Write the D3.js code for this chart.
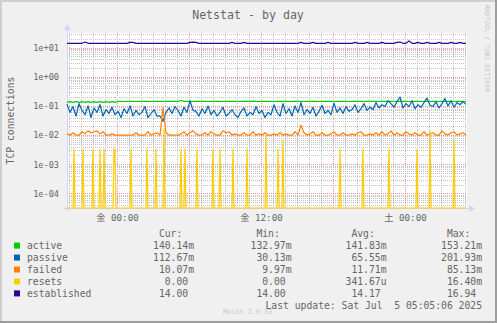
<!DOCTYPE html>
<html>
<head>
<meta charset="utf-8">
<script src="https://cdn.jsdelivr.net/npm/d3@7"></script>
<style>
  body { margin: 0; background: #f0f0f0; }
  text { font-family: "DejaVu Sans Mono", "Noto Sans CJK JP", monospace; fill: #666; }
</style>
</head>
<body>
<svg id="chart" width="497" height="323"></svg>
<script>
// time axis: one sample every 15 minutes (resets: every 5 minutes)
const startTime = new Date(Date.UTC(2025, 6, 3, 19, 50));
const endTime = new Date(Date.UTC(2025, 6, 5, 5, 10));
const stepMin = 15;
const resetStepMin = 5;

const seriesNames = ["active", "passive", "failed", "resets", "established"];
const colors = ["#00cc00", "#0066b3", "#ff8000", "#ffcc00", "#330099"];

// values in milli-connections (m), as in the legend
const activeM = [
  133, 140, 133, 140, 133, 140, 133, 140, 133, 140, 133, 140, 133, 140, 133, 140, 133,
  143, 143, 142, 143, 143, 143, 142, 143, 143, 143, 143, 142, 143,
  143, 143, 142, 143, 143, 143, 143, 143, 153.21, 143, 143, 143, 142,
  143, 143, 143, 143, 142, 143, 143, 143, 143, 142, 143, 143, 143,
  143, 142, 143, 143, 143, 143, 147, 143, 142, 143, 143, 143, 143,
  142, 143, 143, 143, 143, 142, 143, 143, 143, 143, 142, 143, 143,
  143, 143, 142, 143, 143, 143, 143, 142, 143, 143, 143, 143, 142,
  143, 143, 143, 143, 142, 143, 143, 143, 143, 142, 143, 143, 143,
  143, 142, 143, 143, 143, 143, 142, 143, 143, 143, 143, 142, 143,
  143, 143, 143, 142, 143, 143, 143, 143, 142, 143, 143, 143, 140.14
];
const passiveM = [
  115, 60, 95, 45, 120, 70, 50, 100, 40, 85, 60, 110, 45, 75, 55, 90, 50,
  65, 40, 80, 55, 100, 45, 70, 50, 60, 95, 40, 55, 75, 45, 45, 30.13, 60,
  85, 55, 95, 70, 45, 90, 60, 150, 70, 65, 45, 80, 55, 100, 50, 70, 45,
  60, 90, 45, 55, 75, 50, 40, 65, 85, 45, 60, 50, 95, 55, 70, 40, 60,
  50, 110, 60, 45, 120, 55, 80, 45, 100, 60, 130, 50, 75, 55, 90, 45, 65,
  105, 55, 70, 50, 125, 60, 85, 55, 95, 65, 75, 110, 60, 80, 120, 70, 90,
  75, 130, 85, 110, 95, 150, 120, 90, 140, 201.93, 85, 120, 95, 150, 80, 110, 90,
  130, 185, 105, 95, 140, 85, 120, 180, 100, 150, 90, 130, 110, 140, 112.67
];
const failedM = [
  11, 10, 12, 10, 9.97, 13, 11, 14, 12, 13, 14, 11, 13, 10, 10, 11, 10,
  10, 10, 10, 10, 10, 10, 12, 10, 10, 10, 13, 10, 11, 12, 10, 85.13, 12,
  10, 10, 9.97, 10, 11, 13, 10, 12, 14, 11, 10, 10, 12, 10, 13, 11, 10,
  10, 14, 12, 13, 10, 11, 10, 10, 12, 10, 10, 13, 10, 11, 10, 12, 10,
  10, 11, 10, 12, 10, 11, 10, 10, 13, 10, 22, 12, 10, 11, 13, 10, 10,
  12, 10, 10, 11, 13, 10, 10, 12, 10, 10, 11, 10, 12, 13, 10, 10, 11,
  10, 12, 10, 13, 10, 11, 14, 10, 12, 10, 10, 13, 11, 10, 12, 10, 10,
  13, 10, 11, 12, 10, 10, 14, 11, 10, 12, 13, 10, 11, 12, 10.07
];
const established = [
  14, 14, 14, 14, 14, 14, 15.5, 14, 14, 14, 14, 14, 14, 14, 14, 14, 14,
  14, 14, 14, 14, 15, 15, 14, 14, 14, 14, 14, 14, 14, 14, 14, 14, 14,
  14, 14, 14, 14, 14, 14, 14, 15, 15.3, 15, 14, 14, 14, 14, 14, 14, 14,
  14, 14, 14, 14, 15, 14, 14, 14, 15, 14, 14, 14, 14, 14, 14, 14, 14,
  14, 14, 14, 14, 14, 14, 14, 14, 14, 14, 15, 14, 14, 14, 15, 14, 14,
  14, 14, 15, 14, 14, 14, 14, 14, 14, 14, 14, 15, 14, 14, 14, 15, 14,
  14, 14, 14, 15, 14, 14, 14, 14, 15, 15.5, 14, 14, 16.94, 14, 14, 15, 14,
  14, 15, 14, 14, 14, 15, 14, 14, 14, 15, 14, 14, 15, 14, 14
];
// resets are zero except at these 5-minute samples
const resetSpikeIdx = [7, 16, 26, 33, 37, 47, 48, 64, 80, 89, 97, 114, 118, 130, 146, 153, 166, 180, 199, 211, 216, 273, 296, 322, 350, 363, 387];
const resetSpikeM = [3.33, 3.33, 3.33, 3.33, 3.33, 3.33, 3.33, 3.33, 3.33, 3.33, 16.4, 3.33, 3.33, 3.33, 3.33, 3.33, 3.33, 3.33, 10, 3.33, 6.67, 3.33, 3.33, 3.33, 3.33, 13.33, 6.67];
const resetSamples = 400;

// legend statistics
const curValues = [0.14014, 0.11267, 0.01007, 0, 14.00];
const minValues = [0.13297, 0.03013, 0.00997, 0, 14.00];
const avgValues = [0.14183, 0.06555, 0.01171, 0.00034167, 14.17];
const maxValues = [0.15321, 0.20193, 0.08513, 0.0164, 16.94];

const yTickValues = [1e-4, 1e-3, 1e-2, 1e-1, 1, 10];
const yTickLabels = ["1e-04", "1e-03", "1e-02", "1e-01", "1e+00", "1e+01"];
const xTickTimes = [new Date(Date.UTC(2025, 6, 4, 0)), new Date(Date.UTC(2025, 6, 4, 12)), new Date(Date.UTC(2025, 6, 5, 0))];
const xTickLabels = ["金 00:00", "金 12:00", "土 00:00"];

const W = 497, H = 323;
const plotL = 67, plotR = 467, plotT = 33, plotB = 208;

const svg = d3.select("#chart");

const x = d3.scaleUtc().domain([startTime, endTime]).range([plotL, plotR]);
const y = d3.scaleLog().domain([Math.pow(10, -4.5), Math.pow(10, 1.5)]).range([plotB, plotT]).clamp(true);

// background and 3d frame
svg.append("rect").attr("width", W).attr("height", H).attr("fill", "#f0f0f0");
svg.append("path").attr("d", `M0,0H${W}V2H2V${H}H0Z`).attr("fill", "#cfcfcf");
svg.append("path").attr("d", `M${W},0V${H}H0V${H - 2}H${W - 2}V0Z`).attr("fill", "#9e9e9e");
svg.append("rect").attr("x", plotL).attr("y", plotT).attr("width", plotR - plotL).attr("height", plotB - plotT).attr("fill", "#fff");

// grid
const grid = svg.append("g").attr("stroke-width", 1).attr("stroke-dasharray", "1,1").attr("shape-rendering", "crispEdges");
const hours = d3.utcHour.every(1).range(startTime, endTime);
grid.selectAll("line.vx")
  .data(hours)
  .enter().append("line")
  .attr("x1", d => Math.round(x(d)) + 0.5).attr("x2", d => Math.round(x(d)) + 0.5)
  .attr("y1", plotT).attr("y2", plotB)
  .attr("stroke", d => d.getUTCHours() % 6 === 0 ? "rgba(255,0,0,0.4)" : "#c4c4c4");

const minorY = [];
for (let k = -5; k <= 1; k++) {
  for (let m = 2; m <= 9; m++) {
    const v = m * Math.pow(10, k);
    if (v > y.domain()[0] && v < y.domain()[1]) minorY.push(v);
  }
}
grid.selectAll("line.hy")
  .data(minorY)
  .enter().append("line")
  .attr("x1", plotL).attr("x2", plotR)
  .attr("y1", d => Math.round(y(d)) + 0.5).attr("y2", d => Math.round(y(d)) + 0.5)
  .attr("stroke", "#c4c4c4");
grid.selectAll("line.my")
  .data(yTickValues)
  .enter().append("line")
  .attr("x1", plotL).attr("x2", plotR)
  .attr("y1", d => Math.round(y(d)) + 0.5).attr("y2", d => Math.round(y(d)) + 0.5)
  .attr("stroke", "rgba(255,0,0,0.4)");

// axes lines with arrows
svg.append("line").attr("x1", plotL + 0.5).attr("x2", plotL + 0.5).attr("y1", plotB + 3).attr("y2", 28)
  .attr("stroke", "#cfd6f8");
svg.append("path").attr("d", `M${plotL - 3},30L${plotL + 4},30L${plotL + 0.5},24Z`).attr("fill", "#cfd6f8");
svg.append("line").attr("x1", plotL - 3).attr("x2", 471).attr("y1", plotB + 0.5).attr("y2", plotB + 0.5)
  .attr("stroke", "#cfd6f8");
svg.append("path").attr("d", `M469,${plotB - 3}L469,${plotB + 4}L475,${plotB + 0.5}Z`).attr("fill", "#cfd6f8");

// y labels
const yAxis = svg.append("g")
  .attr("transform", `translate(${plotL},0)`)
  .call(d3.axisLeft(y).tickValues(yTickValues).tickFormat((d, i) => yTickLabels[i]).tickSize(0).tickPadding(8));
yAxis.select(".domain").remove();
yAxis.attr("font-family", null).attr("font-size", null);
yAxis.selectAll("text").style("font-size", "8.6px");

// x labels
const xAxis = svg.append("g")
  .attr("transform", `translate(0,${plotB})`)
  .call(d3.axisBottom(x).tickValues(xTickTimes).tickFormat((d, i) => xTickLabels[i]).tickSize(0).tickPadding(6.5));
xAxis.select(".domain").remove();
xAxis.attr("font-family", null).attr("font-size", null);
xAxis.selectAll("text").style("font-size", "9.2px");

// series
const plot = svg.append("g").attr("fill", "none").attr("stroke-width", 1.2).attr("stroke-linejoin", "round");
const stepLine = (stepMinutes) => d3.line()
  .x((d, i) => x(new Date(startTime.getTime() + i * stepMinutes * 60000)))
  .y(d => y(d));

const resets = d3.range(resetSamples).map(j => {
  const k = resetSpikeIdx.indexOf(j);
  return k < 0 ? 0 : resetSpikeM[k] / 1000;
});

const seriesData = [
  { values: activeM.map(v => v / 1000), step: stepMin },
  { values: passiveM.map(v => v / 1000), step: stepMin },
  { values: failedM.map(v => v / 1000), step: stepMin },
  { values: resets, step: resetStepMin },
  { values: established, step: stepMin }
];
seriesData.forEach((s, i) => {
  plot.append("path")
    .datum(s.values)
    .attr("stroke", colors[i])
    .attr("d", stepLine(s.step));
});

// title
svg.append("text")
  .attr("x", 248).attr("y", 19)
  .attr("text-anchor", "middle")
  .style("font-size", "11.6px")
  .text("Netstat - by day");

// y title
svg.append("text")
  .attr("transform", `translate(14,${(plotT + plotB) / 2}) rotate(-90)`)
  .attr("text-anchor", "middle")
  .style("font-size", "9.72px")
  .text("TCP connections");

// watermark
svg.append("text")
  .attr("transform", "translate(485,48.5) rotate(90)")
  .attr("text-anchor", "middle")
  .style("font-size", "6.6px")
  .style("fill", "#c6c6c6")
  .text("RRDTOOL / TOBI OETIKER");

// legend
const charW = 9.72 * 0.602;
const colRight = [194, 291.5, 386.5, 482];
const headers = ["Cur:", "Min:", "Avg:", "Max:"];
const legend = svg.append("g").style("font-size", "9.72px");
headers.forEach((h, c) => {
  legend.append("text").attr("x", colRight[c] - 6 * charW).attr("y", 236.8).text(h);
});

function fmt(v) {
  if (v === 0) return ["0.00", " "];
  if (v >= 1) return [v.toFixed(2), " "];
  if (v >= 1e-3) return [(v * 1e3).toFixed(2), "m"];
  return [(v * 1e6).toFixed(2), "u"];
}

seriesNames.forEach((name, i) => {
  const cy = 245.6 + i * 11.95;
  legend.append("rect")
    .attr("x", 14).attr("y", cy - 3).attr("width", 6).attr("height", 6)
    .attr("fill", colors[i]);
  legend.append("text").attr("x", 27).attr("y", cy + 3.5).text(name);
  [curValues, minValues, avgValues, maxValues].forEach((vals, c) => {
    const [num, suf] = fmt(vals[i]);
    legend.append("text")
      .attr("x", colRight[c] - (suf === " " ? charW : 0))
      .attr("y", cy + 3.5)
      .attr("text-anchor", "end")
      .text(num + (suf === " " ? "" : suf));
  });
});

legend.append("text")
  .attr("x", 482).attr("y", 308.8)
  .attr("text-anchor", "end")
  .style("white-space", "pre")
  .text("Last update: Sat Jul  5 05:05:06 2025");

svg.append("text")
  .attr("x", 247.5).attr("y", 313.5)
  .attr("text-anchor", "middle")
  .style("font-size", "6.8px")
  .style("fill", "#cccccc")
  .text("Munin 2.0.33");
</script>
</body>
</html>
